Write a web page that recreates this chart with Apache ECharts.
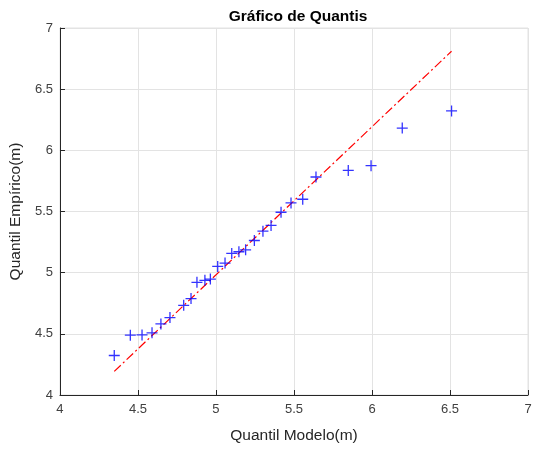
<!DOCTYPE html>
<html>
<head>
<meta charset="utf-8">
<script src="https://cdn.jsdelivr.net/npm/echarts@6/dist/echarts.min.js"></script>
<style>
  html, body { margin: 0; padding: 0; background: #fff; }
  #chart { width: 537px; height: 449px; }
</style>
</head>
<body>
<div id="chart"></div>
<script>
// Theoretical (model) quantiles, metres
const modelQuantiles = [
  4.348, 4.451, 4.526, 4.590, 4.647, 4.705, 4.793, 4.840, 4.878,
  4.929, 4.964, 5.011, 5.058, 5.101, 5.147, 5.190, 5.246, 5.301,
  5.353, 5.417, 5.481, 5.556, 5.641, 5.848, 5.994, 6.194, 6.510
];
// Empirical (sample) quantiles, metres
const empiricalQuantiles = [
  4.323, 4.489, 4.491, 4.508, 4.581, 4.633, 4.733, 4.788, 4.921,
  4.937, 4.948, 5.051, 5.078, 5.157, 5.171, 5.187, 5.263, 5.339,
  5.386, 5.494, 5.570, 5.600, 5.782, 5.836, 5.875, 6.182, 6.322
];
// Reference line endpoints (x, y)
const refLineX = [4.348, 6.510];
const refLineY = [4.193, 6.810];
// Axis ticks
const xTicks = [4, 4.5, 5, 5.5, 6, 6.5, 7];
const yTicks = [4, 4.5, 5, 5.5, 6, 6.5, 7];

const FONT = '"Liberation Sans", Arial, Helvetica, sans-serif';
const points = modelQuantiles.map((x, i) => [x, empiricalQuantiles[i]]);
const refLine = refLineX.map((x, i) => [x, refLineY[i]]);

const chart = echarts.init(document.getElementById('chart'), null, { renderer: 'canvas' });

const axisCommon = {
  type: 'value',
  interval: 0.5,
  axisLine: { show: true, lineStyle: { color: '#262626', width: 1 } },
  axisTick: { show: true, inside: true, length: 5, lineStyle: { color: '#262626' } },
  splitLine: { show: true, lineStyle: { color: '#e3e3e3', width: 1 } },
  axisLabel: {
    color: '#404040', fontFamily: FONT, fontSize: 13,
    formatter: v => String(v)
  },
  nameLocation: 'middle',
  nameTextStyle: { color: '#262626', fontFamily: FONT, fontSize: 15.5 }
};

chart.setOption({
  animation: false,
  backgroundColor: '#ffffff',
  title: {
    text: 'Gráfico de Quantis',
    left: 293,
    top: 4,
    textAlign: 'center',
    textStyle: { fontFamily: FONT, fontSize: 15.5, fontWeight: 'bold', color: '#000' }
  },
  grid: { left: 59, right: 9, top: 28, bottom: 52, show: true, borderColor: '#e3e3e3', borderWidth: 1 },
  xAxis: Object.assign({}, axisCommon, {
    min: xTicks[0], max: xTicks[xTicks.length - 1],
    name: 'Quantil Modelo(m)', nameGap: 33,
    axisLabel: Object.assign({}, axisCommon.axisLabel, { margin: 8 })
  }),
  yAxis: Object.assign({}, axisCommon, {
    min: yTicks[0], max: yTicks[yTicks.length - 1],
    name: 'Quantil Empírico(m)', nameGap: 30,
    axisLabel: Object.assign({}, axisCommon.axisLabel, { margin: 7 })
  }),
  series: [
    {
      type: 'line',
      data: refLine,
      symbol: 'none',
      lineStyle: { color: '#ff0000', width: 1.2, type: [9, 3, 2, 3] },
      z: 2
    },
    {
      type: 'scatter',
      data: points,
      symbol: 'path://M5,0 L5,10 M0,5 L10,5',
      symbolSize: 11,
      itemStyle: { color: 'rgba(0,0,0,0)', borderColor: '#0000ff', borderWidth: 1.3 },
      z: 3
    }
  ]
});
</script>
</body>
</html>
